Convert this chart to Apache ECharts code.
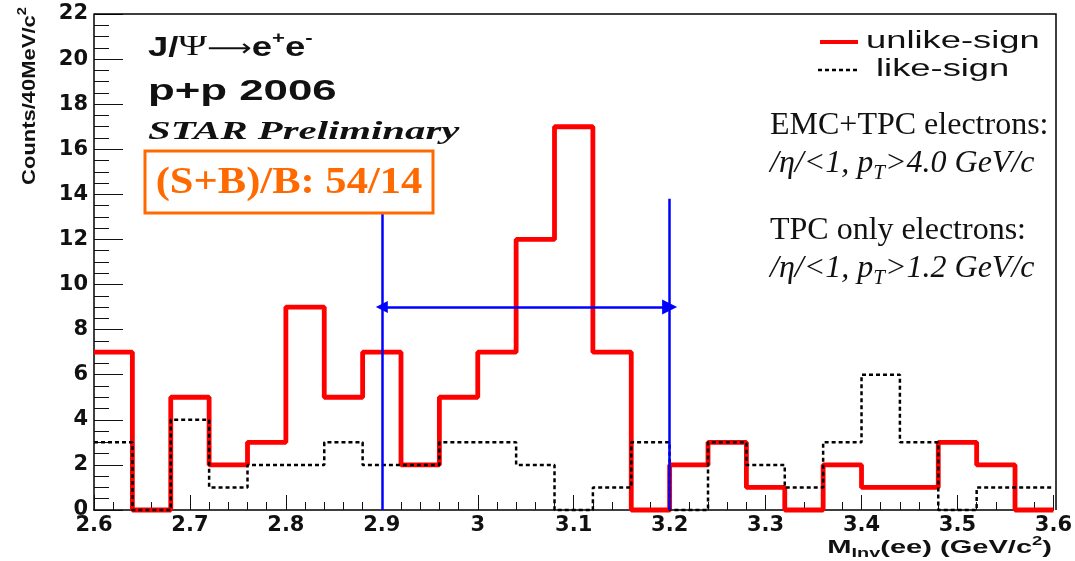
<!DOCTYPE html>
<html>
<head>
<meta charset="utf-8">
<title>J/Psi to e+e- invariant mass, p+p 2006</title>
<script src="https://cdn.jsdelivr.net/npm/echarts@6/dist/echarts.min.js"></script>
<style>
  html, body { margin: 0; padding: 0; background: #fff; }
  #chart { width: 1075px; height: 561px; }
</style>
</head>
<body>
<div id="chart"></div>
<script>
// Bin edges of the invariant-mass histogram (GeV/c^2), 40 MeV bins
const binEdges = [2.60, 2.64, 2.68, 2.72, 2.76, 2.80, 2.84, 2.88, 2.92, 2.96,
                  3.00, 3.04, 3.08, 3.12, 3.16, 3.20, 3.24, 3.28, 3.32, 3.36,
                  3.40, 3.44, 3.48, 3.52, 3.56, 3.60];

// Counts per bin
const unlikeSign = [7, 0, 5, 2, 3, 9, 5, 7, 2, 5, 7, 12, 17, 7, 0, 2, 3, 1, 0, 2, 1, 1, 3, 2, 0];
const likeSign   = [3, 0, 4, 1, 2, 2, 3, 2, 2, 3, 3, 2, 0, 1, 3, 0, 3, 2, 1, 3, 6, 3, 0, 1, 1];

// Mass window used for the signal count
const massWindow = [2.9, 3.2];
const windowLineTop = 13.8;
const windowArrowLevel = 9;

// Axis ranges
const xRange = [2.6, 3.6];
const yRange = [0, 22];

// Plot frame in pixels
const gridBox = { left: 94, right: 19, top: 14, bottom: 51 };
const W = 1075, H = 561;

// Turn per-bin counts into step points: one point per left edge plus the closing edge
function histPoints(counts) {
  return binEdges.map((e, i) => [e, counts[Math.min(i, counts.length - 1)]]);
}

const chart = echarts.init(document.getElementById('chart'));

const sansBold = 'Liberation Sans';
const serif = 'Liberation Serif';

const frameRight = W - gridBox.right;
const frameBottom = H - gridBox.bottom;

chart.setOption({
  animation: false,
  grid: {
    left: gridBox.left, right: gridBox.right, top: gridBox.top, bottom: gridBox.bottom
  },
  xAxis: {
    type: 'value',
    min: xRange[0], max: xRange[1], interval: 0.1,
    axisLine: { show: true, lineStyle: { color: '#000', width: 1.5 } },
    axisTick: { show: true, inside: true, length: 15, lineStyle: { color: '#111', width: 1 } },
    minorTick: { show: true, splitNumber: 5, length: 8, lineStyle: { color: '#111', width: 1 } },
    splitLine: { show: false },
    axisLabel: {
      color: '#111', fontFamily: 'DejaVu Sans', fontWeight: 'bold', fontSize: 21, margin: 5
    }
  },
  yAxis: {
    type: 'value',
    min: yRange[0], max: yRange[1], interval: 2,
    axisLine: { show: true, lineStyle: { color: '#000', width: 1.5 } },
    axisTick: { show: true, inside: true, length: 29, lineStyle: { color: '#111', width: 1 } },
    minorTick: { show: true, splitNumber: 4, length: 15, lineStyle: { color: '#111', width: 1 } },
    splitLine: { show: false },
    axisLabel: {
      color: '#111', fontFamily: 'DejaVu Sans', fontWeight: 'bold', fontSize: 21, margin: 6
    }
  },
  series: [
    {
      name: 'unlike-sign',
      type: 'line',
      step: 'end',
      data: histPoints(unlikeSign),
      symbol: 'none',
      clip: false,
      z: 2,
      lineStyle: { color: '#ff0000', width: 4.8 }
    },
    {
      name: 'like-sign',
      type: 'line',
      step: 'end',
      data: histPoints(likeSign),
      symbol: 'none',
      clip: false,
      z: 3,
      lineStyle: { color: '#000', width: 2.5, type: [4, 3] }
    },
    {
      // vertical boundaries of the mass window
      name: 'window',
      type: 'lines',
      coordinateSystem: 'cartesian2d',
      z: 4,
      symbol: 'none',
      lineStyle: { color: '#0000ff', width: 2.5, opacity: 1 },
      data: massWindow.map(m => ({ coords: [[m, 0], [m, windowLineTop]] }))
    },
    {
      // double-headed arrow spanning the mass window
      name: 'windowArrow',
      type: 'lines',
      coordinateSystem: 'cartesian2d',
      z: 4,
      symbol: ['triangle', 'triangle'],
      symbolSize: [12, 15],
      lineStyle: { color: '#0000ff', width: 2.5, opacity: 1 },
      itemStyle: { color: '#0000ff' },
      data: [{ coords: [[massWindow[0], windowArrowLevel], [massWindow[1], windowArrowLevel]] }]
    }
  ],
  graphic: [
    // top and right edges of the frame
    {
      type: 'polyline', z: 1,
      shape: { points: [[gridBox.left, gridBox.top], [frameRight, gridBox.top], [frameRight, frameBottom]] },
      style: { stroke: '#000', lineWidth: 1.5, fill: null }
    },
    // y-axis title
    {
      type: 'text', x: 28, y: 96, rotation: Math.PI / 2, scaleX: 1.22,
      style: {
        text: '{m|Counts/40MeV/c}{s|2}',
        align: 'center', verticalAlign: 'middle',
        rich: {
          m: { fontFamily: sansBold, fontWeight: 'bold', fontSize: 18, fill: '#111', lineHeight: 22, verticalAlign: 'bottom' },
          s: { fontFamily: sansBold, fontWeight: 'bold', fontSize: 12, fill: '#111', lineHeight: 22, verticalAlign: 'top' }
        }
      }
    },
    // x-axis title
    {
      type: 'text', x: 1052, y: 548, scaleX: 1.53,
      style: {
        text: '{m|M}{b|Inv}{m|(ee) (GeV/c}{s|2}{m|)}',
        align: 'right', verticalAlign: 'middle',
        rich: {
          m: { fontFamily: sansBold, fontWeight: 'bold', fontSize: 19, fill: '#111', lineHeight: 24, verticalAlign: 'middle' },
          b: { fontFamily: sansBold, fontWeight: 'bold', fontSize: 13, fill: '#111', lineHeight: 24, verticalAlign: 'bottom' },
          s: { fontFamily: sansBold, fontWeight: 'bold', fontSize: 12, fill: '#111', lineHeight: 24, verticalAlign: 'top' }
        }
      }
    },
    // process label
    {
      type: 'text', x: 148, y: 46, scaleX: 1.3,
      style: {
        text: '{b|J/}{g|\u03A8}{a|\u27F6}{b|e}{s|+}{b|e}{s|-}',
        verticalAlign: 'middle',
        rich: {
          b: { fontFamily: sansBold, fontWeight: 'bold', fontSize: 28, fill: '#111', lineHeight: 32, verticalAlign: 'bottom' },
          g: { fontFamily: serif, fontSize: 30, fill: '#111', lineHeight: 32, verticalAlign: 'bottom' },
          a: { fontFamily: 'DejaVu Sans', fontSize: 24, fill: '#111', lineHeight: 32, verticalAlign: 'bottom' },
          s: { fontFamily: sansBold, fontWeight: 'bold', fontSize: 17, fill: '#111', lineHeight: 32, verticalAlign: 'top' }
        }
      }
    },
    {
      type: 'text', x: 148, y: 92, scaleX: 1.46,
      style: {
        text: 'p+p 2006', verticalAlign: 'middle',
        fontFamily: sansBold, fontWeight: 'bold', fontSize: 30, fill: '#111'
      }
    },
    {
      type: 'text', x: 148, y: 133, scaleX: 1.63,
      style: {
        text: 'STAR Preliminary', verticalAlign: 'middle',
        fontFamily: serif, fontWeight: 'bold', fontStyle: 'italic', fontSize: 25, fill: '#111'
      }
    },
    // signal / background box
    {
      type: 'rect', shape: { x: 145, y: 151, width: 288, height: 62 },
      style: { fill: '#ffffff', stroke: '#ff6a00', lineWidth: 3 },
      z: 10
    },
    {
      type: 'text', x: 289, y: 183, scaleX: 1.12, z: 11,
      style: {
        text: '(S+B)/B: 54/14', align: 'center', verticalAlign: 'middle',
        fontFamily: serif, fontWeight: 'bold', fontSize: 38, fill: '#ff6a00'
      }
    },
    // legend
    {
      type: 'line', shape: { x1: 820, y1: 42, x2: 858, y2: 42 },
      style: { stroke: '#ff0000', lineWidth: 4 }
    },
    {
      type: 'text', x: 866, y: 42, scaleX: 1.58,
      style: {
        text: 'unlike-sign', verticalAlign: 'middle',
        fontFamily: sansBold, fontSize: 23, fill: '#111'
      }
    },
    {
      type: 'line', shape: { x1: 818, y1: 70, x2: 858, y2: 70 },
      style: { stroke: '#000', lineWidth: 2.5, lineDash: [4, 3] }
    },
    {
      type: 'text', x: 876, y: 70, scaleX: 1.58,
      style: {
        text: 'like-sign', verticalAlign: 'middle',
        fontFamily: sansBold, fontSize: 23, fill: '#111'
      }
    },
    // electron selection notes
    {
      type: 'text', x: 770, y: 126,
      style: { text: 'EMC+TPC electrons:', verticalAlign: 'middle', fontFamily: serif, fontSize: 32, fill: '#111' }
    },
    {
      type: 'text', x: 770, y: 166,
      style: {
        text: '{i|/\u03B7/<1, p}{t|T}{i|>4.0 GeV/c}', verticalAlign: 'middle',
        rich: {
          i: { fontFamily: serif, fontStyle: 'italic', fontSize: 32, fill: '#111', lineHeight: 36, verticalAlign: 'top' },
          t: { fontFamily: serif, fontStyle: 'italic', fontSize: 21, fill: '#111', lineHeight: 36, verticalAlign: 'bottom' }
        }
      }
    },
    {
      type: 'text', x: 770, y: 231,
      style: { text: 'TPC only electrons:', verticalAlign: 'middle', fontFamily: serif, fontSize: 32, fill: '#111' }
    },
    {
      type: 'text', x: 770, y: 271,
      style: {
        text: '{i|/\u03B7/<1, p}{t|T}{i|>1.2 GeV/c}', verticalAlign: 'middle',
        rich: {
          i: { fontFamily: serif, fontStyle: 'italic', fontSize: 32, fill: '#111', lineHeight: 36, verticalAlign: 'top' },
          t: { fontFamily: serif, fontStyle: 'italic', fontSize: 21, fill: '#111', lineHeight: 36, verticalAlign: 'bottom' }
        }
      }
    }
  ]
});
</script>
</body>
</html>
